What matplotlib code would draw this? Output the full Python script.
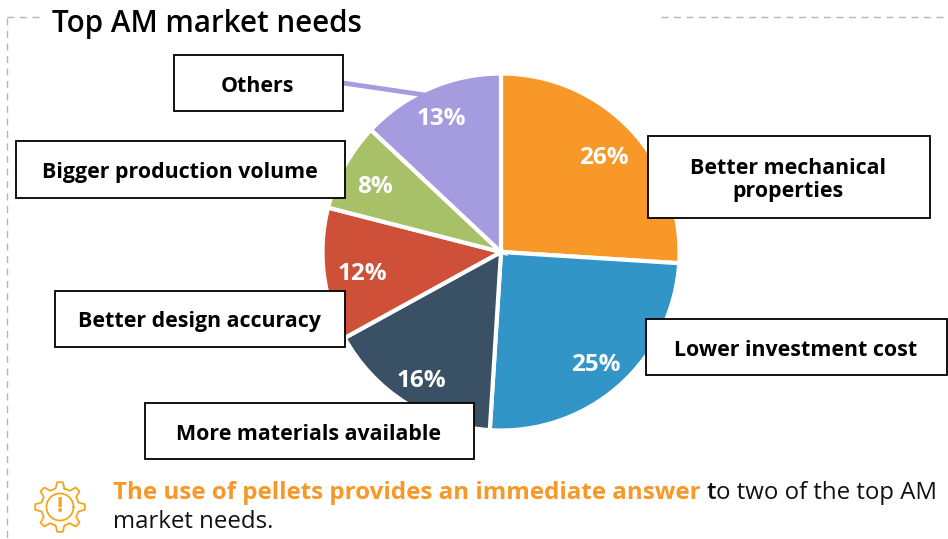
import numpy as np
import matplotlib
matplotlib.use("Agg")
import matplotlib.pyplot as plt
from matplotlib.patches import Rectangle

plt.rcParams['font.family'] = ['Open Sans', 'DejaVu Sans']

# Survey shares, clockwise from twelve o'clock
needs = ["Better mechanical\nproperties", "Lower investment cost", "More materials available",
         "Better design accuracy", "Bigger production volume", "Others"]
shares = [26, 25, 16, 12, 8, 13]
colors = ["#F79828", "#3195C8", "#3A5064", "#CF5038", "#A8C168", "#A59BDF"]

title = "Top AM market needs"
note_orange = "The use of pellets provides an immediate answer"
note_bold = "t"
note_black = "o two of the top AM"
note_line2 = "market needs."

W, H = 948, 539


def fy(y):
    # pixel row to axis y
    return H - y


fig = plt.figure(figsize=(W / 100, H / 100), dpi=100)
ax = fig.add_axes([0, 0, 1, 1])

# pie
cx, cy, radius = 501, 252, 178.5
wedges, _ = ax.pie(shares, colors=colors, startangle=90, counterclock=False,
                   center=(cx, fy(cy)), radius=radius,
                   wedgeprops=dict(edgecolor="white", linewidth=3))
ax.set_xlim(0, W)
ax.set_ylim(0, H)
ax.set_aspect("equal")
ax.axis("off")

# percent labels
pct_pos = [(604, 158), (596, 365), (421, 381), (362, 274), (375, 187), (441, 119)]
for s, (x, y) in zip(shares, pct_pos):
    ax.text(x, fy(y), str(s) + "%", color="white", fontsize=17.5, fontweight="bold",
            ha="center", va="center", zorder=5)

# leader for Others
ax.plot([343, 425], [fy(83), fy(95)], color=colors[5], lw=3.4, solid_capstyle="butt", zorder=1)

# label boxes: x0, y0, x1, y1
boxes = [(648, 136, 930, 218), (646, 319, 947, 375), (145, 403, 474, 459),
         (55, 291, 345, 347), (16, 141, 345, 198), (174, 55, 343, 111)]
for name, (x0, y0, x1, y1) in zip(needs, boxes):
    ax.add_patch(Rectangle((x0, fy(y1)), x1 - x0, y1 - y0, facecolor="white",
                           edgecolor="black", lw=1.3, zorder=6))
    ax.text((x0 + x1) / 2 - 0.5, fy((y0 + y1) / 2 + 3), name, color="black", fontsize=15.4, fontweight="bold",
            ha="center", va="center", linespacing=1.15, zorder=7)

# dashed frame pieces
dash = dict(color="#b5b5b5", lw=1, dashes=(5, 4))
ax.plot([7, 7], [fy(18), fy(539)], **dash)
ax.plot([7, 40], [fy(17), fy(17)], **dash)
ax.plot([661, 948], [fy(17), fy(17)], **dash)

ax.text(52, fy(24), title, color="black", fontsize=21.3, fontweight="semibold", va="center", ha="left")

# gear icon
gear_x, gear_y = 60, 507
n_teeth = 8
ang = []
rad = []
for i in range(n_teeth):
    a = 2 * np.pi * i / n_teeth + np.pi / 2
    w = 2 * np.pi / n_teeth
    ang += [a - 0.30 * w, a - 0.14 * w, a + 0.14 * w, a + 0.30 * w]
    rad += [19, 25, 25, 19]
ang.append(ang[0])
rad.append(rad[0])
ang = np.array(ang)
rad = np.array(rad)
gear_c = "#F2A71B"
ax.plot(gear_x + rad * np.cos(ang), fy(gear_y) + rad * np.sin(ang), color=gear_c, lw=1.3)
t = np.linspace(0, 2 * np.pi, 80)
ax.plot(gear_x + 13.5 * np.cos(t), fy(gear_y) + 13.5 * np.sin(t), color=gear_c, lw=1.3)
ax.text(gear_x, fy(gear_y - 1), "!", color=gear_c, fontsize=16, fontweight="bold", ha="center", va="center")

# bottom note, one run after another
renderer = fig.canvas.get_renderer()
x = 113
for txt, col, wt, fs, gap in [(note_orange, colors[0], "bold", 17.4, 5.5), (note_bold, "#111111", "semibold", 17.3, 0.5),
                              (note_black, "#111111", "normal", 17.3, 0)]:
    tt = ax.text(x, fy(493), txt, color=col, fontsize=fs, fontweight=wt, va="center", ha="left")
    x = tt.get_window_extent(renderer).x1 + gap
ax.text(113, fy(522), note_line2, color="#111111", fontsize=17.3, va="center", ha="left")

fig.savefig("out.png", dpi=100)
